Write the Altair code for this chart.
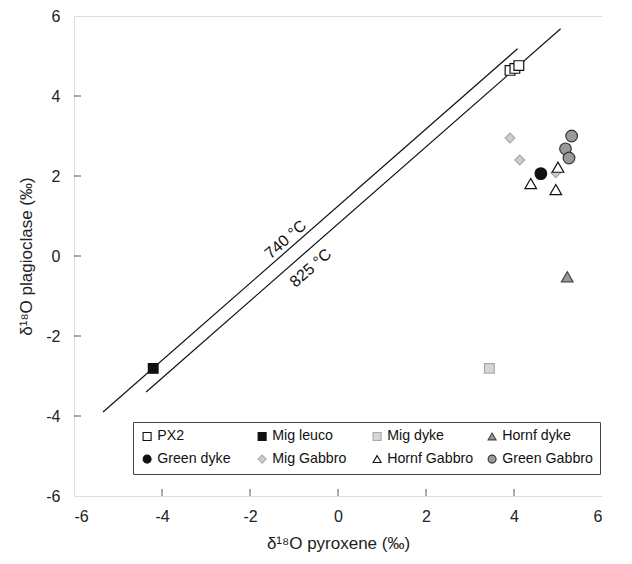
import altair as alt
import pandas as pd

# ---- data ----
groups = ["PX2", "Mig leuco", "Mig dyke", "Hornf dyke",
          "Green dyke", "Mig Gabbro", "Hornf Gabbro", "Green Gabbro"]
shapes = ["square", "square", "square", "triangle-up",
          "circle", "diamond", "triangle-up", "circle"]
fills = ["#ffffff", "#111111", "#d6d6d6", "#9a9a9a",
         "#111111", "#cccccc", "#ffffff", "#9a9a9a"]
strokes = ["#111111", "#111111", "#a8a8a8", "#444444",
           "#111111", "#aaaaaa", "#111111", "#333333"]
big_groups = ["Hornf dyke", "Green dyke", "Hornf Gabbro", "Green Gabbro"]

px2_x = [3.91, 4.02, 4.11]
px2_y = [4.64, 4.69, 4.76]
migleuco_x = [-4.20]
migleuco_y = [-2.81]
migdyke_x = [3.44]
migdyke_y = [-2.81]
hornfdyke_x = [5.21]
hornfdyke_y = [-0.52]
greendyke_x = [4.61]
greendyke_y = [2.06]
miggabbro_x = [3.91, 4.13, 4.95]
miggabbro_y = [2.95, 2.40, 2.08]
hornfgabbro_x = [5.00, 4.38, 4.95]
hornfgabbro_y = [2.22, 1.81, 1.66]
greengabbro_x = [5.31, 5.17, 5.25]
greengabbro_y = [3.00, 2.68, 2.45]

iso_labels = ["740 °C", "825 °C"]
iso_x1 = [-5.34, -4.36]
iso_y1 = [-3.90, -3.40]
iso_x2 = [4.08, 5.06]
iso_y2 = [5.18, 5.68]
iso_text_x = [-1.19, -0.62]
iso_text_y = [0.41, -0.30]

tick_values = [-6, -4, -2, 0, 2, 4, 6]

# legend is filled column by column: 2 rows x 4 columns
ncol = 4
order = [i * ncol + j for j in range(ncol) for i in range(2)]
dom = [groups[k] for k in order]
shp = [shapes[k] for k in order]
fil = [fills[k] for k in order]
stk = [strokes[k] for k in order]

# ---- build tables ----
xs = [px2_x, migleuco_x, migdyke_x, hornfdyke_x, greendyke_x,
      miggabbro_x, hornfgabbro_x, greengabbro_x]
ys = [px2_y, migleuco_y, migdyke_y, hornfdyke_y, greendyke_y,
      miggabbro_y, hornfgabbro_y, greengabbro_y]
rows = []
for g, gx, gy in zip(groups, xs, ys):
    for a, b in zip(gx, gy):
        rows.append({"group": g, "px": a, "pl": b, "big": g in big_groups})
pts = pd.DataFrame(rows)

line_rows = []
for lab, a1, b1, a2, b2 in zip(iso_labels, iso_x1, iso_y1, iso_x2, iso_y2):
    line_rows.append({"iso": lab, "px": a1, "pl": b1, "o": 0})
    line_rows.append({"iso": lab, "px": a2, "pl": b2, "o": 1})
lines_df = pd.DataFrame(line_rows)
text_df = pd.DataFrame({"iso": iso_labels, "px": iso_text_x, "pl": iso_text_y})
ticks_df = pd.DataFrame({"v": tick_values[1:-1]})

W, H = 528, 480
FONT = "Liberation Sans"

xscale = alt.Scale(domain=[-6, 6], nice=False, zero=False)
yscale = alt.Scale(domain=[-6, 6], nice=False, zero=False)

xaxis = alt.Axis(values=tick_values, ticks=False, domain=False, grid=False,
                 labelExpr="datum.value + ''",
                 labelFontSize=16, labelPadding=12, labelColor="#222",
                 title="δ¹⁸O pyroxene (‰)", titleFontSize=17,
                 titleFontWeight="normal", titleColor="#222", titlePadding=11)
yaxis = alt.Axis(values=tick_values, ticks=False, domain=False, grid=False,
                 labelExpr="datum.value + ''",
                 labelFontSize=16, labelPadding=14, labelColor="#222",
                 title="δ¹⁸O plagioclase (‰)", titleFontSize=17,
                 titleFontWeight="normal", titleColor="#222", titlePadding=10)

base_x = alt.X("px:Q", scale=xscale, axis=xaxis)
base_y = alt.Y("pl:Q", scale=yscale, axis=yaxis)

leg = alt.Legend(title=None, orient="none", legendX=59, legendY=406,
                 columns=ncol, gridAlign="all", columnPadding=7, rowPadding=8,
                 padding=7, strokeColor="#444", fillColor="#ffffff",
                 labelFontSize=14.2, labelColor="#111",
                 labelOffset=3, symbolSize=64, symbolStrokeWidth=1.1)

lines = alt.Chart(lines_df).mark_line(color="#111", strokeWidth=1.2).encode(
    x=base_x, y=base_y, detail="iso:N", order="o:Q")

texts = alt.Chart(text_df).mark_text(angle=318.75, fontSize=16, font=FONT,
                                     color="#111").encode(
    x=alt.X("px:Q", scale=xscale), y=alt.Y("pl:Q", scale=yscale), text="iso:N")

enc = dict(
    x=alt.X("px:Q", scale=xscale),
    y=alt.Y("pl:Q", scale=yscale),
    shape=alt.Shape("group:N", scale=alt.Scale(domain=dom, range=shp), legend=leg),
    fill=alt.Fill("group:N", scale=alt.Scale(domain=dom, range=fil), legend=leg),
    stroke=alt.Stroke("group:N", scale=alt.Scale(domain=dom, range=stk), legend=leg),
)
points_small = alt.Chart(pts).transform_filter("!datum.big").mark_point(
    filled=True, strokeWidth=1.2, opacity=1, size=95).encode(**enc)
points_big = alt.Chart(pts).transform_filter("datum.big").mark_point(
    filled=True, strokeWidth=1.2, opacity=1, size=135).encode(**enc)

xticks = alt.Chart(ticks_df).mark_rule(color="#555", strokeWidth=1).encode(
    x=alt.X("v:Q", scale=xscale), y=alt.value(H), y2=alt.value(H - 7))
yticks = alt.Chart(ticks_df).mark_rule(color="#555", strokeWidth=1).encode(
    y=alt.Y("v:Q", scale=yscale), x=alt.value(0), x2=alt.value(7))

chart = alt.layer(lines, texts, xticks, yticks, points_small, points_big).properties(
    width=W, height=H, padding={"left": 9, "top": 0, "right": 0, "bottom": 5}
).configure_view(stroke="#333", strokeWidth=1.3).configure(
    font=FONT
).configure_axis(labelFont=FONT, titleFont=FONT).configure_legend(labelFont=FONT)

chart.save("out.html", embed_options={"renderer": "svg", "actions": False})
